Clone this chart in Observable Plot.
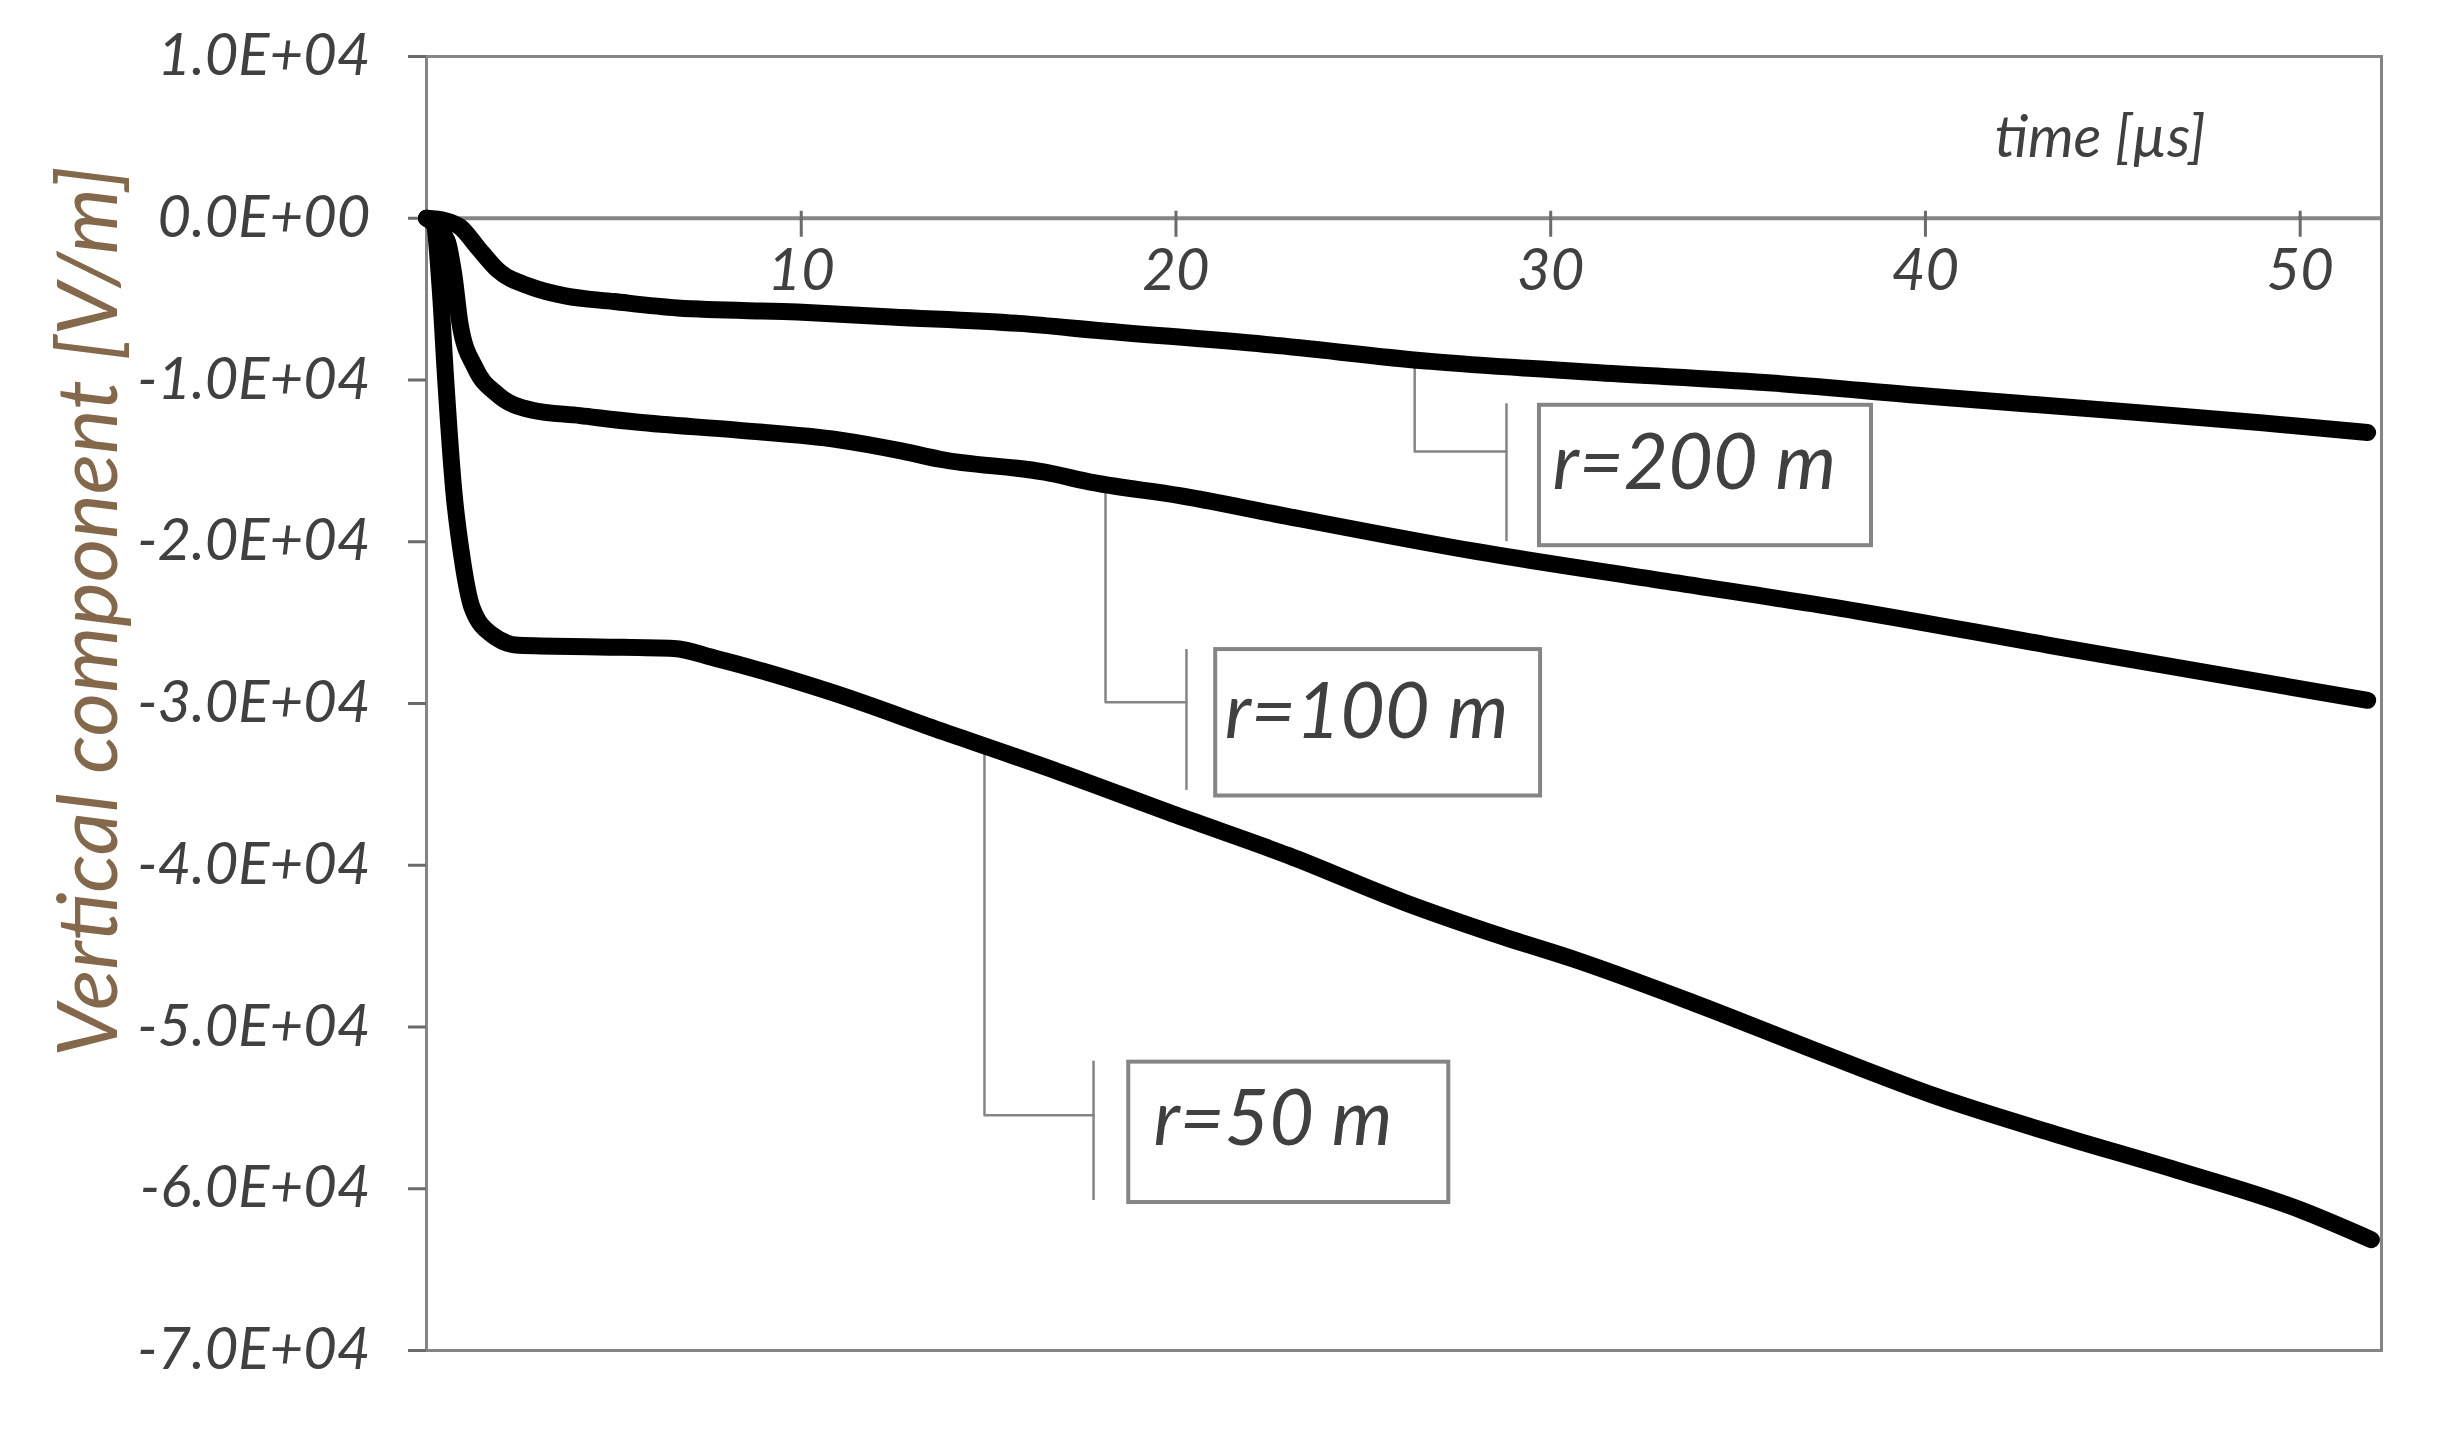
<!DOCTYPE html>
<html>
<head>
<meta charset="utf-8">
<script src="https://cdn.jsdelivr.net/npm/d3@7"></script>
<script src="https://cdn.jsdelivr.net/npm/@observablehq/plot@0.6"></script>
<style>
  html, body { margin: 0; padding: 0; background: #ffffff; }
  #chart svg { display: block; }
</style>
</head>
<body>
<div id="chart"></div>
<script>
// ---------- data (time in µs, vertical field in V/m) ----------
const seriesNames = ["r=200 m", "r=100 m", "r=50 m"];

const r200Time  = [0, 0.5, 0.9, 1.4, 1.9, 2.8, 3.7, 5.0, 6.7, 9.9, 12.4, 15.8, 18.0, 22.4, 26.8, 31.3, 35.7, 40.1, 44.5, 49.0, 51.8];
const r200Field = [0, -150, -550, -1900, -3200, -4250, -4800, -5150, -5550, -5800, -6100, -6500, -6950, -7800, -8850, -9550, -10150, -11000, -11800, -12650, -13250];

const r100Time  = [0, 0.55, 0.73, 0.9, 1.3, 1.9, 2.8, 4.1, 5.6, 8.3, 11.0, 12.7, 13.7, 16.5, 17.8, 20.1, 22.9, 28.0, 33.1, 38.2, 43.3, 48.4, 51.8];
const r100Field = [0, -1400, -3500, -6600, -9250, -10900, -11850, -12200, -12600, -13100, -13700, -14400, -14900, -15700, -16350, -17150, -18400, -20600, -22450, -24300, -26400, -28450, -29800];

const r50Time  = [0, 0.2, 0.37, 0.51, 0.73, 0.95, 1.22, 1.75, 2.46, 4.6, 6.6, 7.7, 10.8, 13.8, 16.9, 20.0, 23.0, 26.1, 28.7, 30.6, 33.8, 37.0, 40.3, 43.5, 46.7, 50.0, 51.9];
const r50Field = [0, -400, -4500, -9900, -16900, -21000, -24100, -25750, -26400, -26500, -26600, -27200, -29300, -31750, -34250, -36900, -39400, -42300, -44400, -45800, -48500, -51400, -54300, -56650, -58850, -61300, -63150];

const xTicks = [10, 20, 30, 40, 50];
const yTicks = [10000, 0, -10000, -20000, -30000, -40000, -50000, -60000, -70000];
const yTickLabels = ["1.0E+04", "0.0E+00", "-1.0E+04", "-2.0E+04", "-3.0E+04", "-4.0E+04", "-5.0E+04", "-6.0E+04", "-7.0E+04"];

const xTitle = "time [µs]";
const yTitle = "Vertical component [V/m]";

// ---------- table built from the arrays ----------
const seriesTime = [r200Time, r100Time, r50Time];
const seriesField = [r200Field, r100Field, r50Field];
const rows = seriesNames.flatMap((name, k) =>
  seriesTime[k].map((t, i) => ({r: name, t, v: seriesField[k][i]})));

function fieldAt(k, t) {
  const T = seriesTime[k], V = seriesField[k];
  const i = Math.max(1, Math.min(T.length - 1, d3.bisectLeft(T, t)));
  const a = (t - T[i - 1]) / (T[i] - T[i - 1]);
  return V[i - 1] + a * (V[i] - V[i - 1]);
}

// ---------- callout layout (data units) ----------
const callouts = [
  {k: 0, dropT: 26.37, elbowV: -14415, bracketT: 28.82, bTop: -11470, bBot: -19995, boxT1: 29.70, boxT2: 38.56, boxV1: -11563, boxV2: -20243, textT: 30.05, textV: -15200},
  {k: 1, dropT: 18.12, elbowV: -29915, bracketT: 20.28, bTop: -26666, bBot: -35371, boxT1: 21.06, boxT2: 29.73, boxV1: -26666, boxV2: -35718, textT: 21.3, textV: -30600},
  {k: 2, dropT: 14.89, elbowV: -55459, bracketT: 17.80, bTop: -52111, bBot: -60729, boxT1: 18.74, boxT2: 27.28, boxV1: -52173, boxV2: -60853, textT: 19.4, textV: -55800}
].map(c => ({...c, label: seriesNames[c.k]}));

const leaderRows = callouts.flatMap(c => [
  {id: c.k, t: c.dropT, v: fieldAt(c.k, c.dropT)},
  {id: c.k, t: c.dropT, v: c.elbowV},
  {id: c.k, t: c.bracketT, v: c.elbowV}
]);

const FONT = "Lato, 'Open Sans', sans-serif";
const GRAY = "#858585";
const TXT = "#404040";

const chart = Plot.plot({
  width: 2455,
  height: 1444,
  marginLeft: 426,
  marginRight: 74,
  marginTop: 56,
  marginBottom: 94,
  style: {background: "#ffffff", fontFamily: FONT},
  x: {domain: [0, 52.17], axis: null, label: null},
  y: {domain: [-70000, 10000], label: null},
  marks: [
    Plot.frame({stroke: GRAY, strokeWidth: 3}),
    Plot.ruleY([0], {stroke: GRAY, strokeWidth: 4}),
    Plot.ruleX(xTicks, {x: d => d, y1: 0, y2: 0, insetTop: -7, insetBottom: -19, stroke: "#6a6a6a", strokeWidth: 3}),
    Plot.text(xTicks, {x: d => d, y: 0, dy: 53, text: d => String(d), fontSize: 58, fontStyle: "italic", fontFamily: FONT, fill: TXT}),
    Plot.axisY(yTicks, {tickSize: 18, tickFormat: () => "", color: "#6a6a6a", strokeWidth: 3, label: null}),
    Plot.axisY(yTicks, {tickSize: 0, tickPadding: 56, tickFormat: d => yTickLabels[yTicks.indexOf(d)], fontSize: 58, fontStyle: "italic", fontFamily: FONT, color: TXT, label: null}),
    // callout leaders
    Plot.line(leaderRows, {x: "t", y: "v", z: "id", stroke: GRAY, strokeWidth: 2.5}),
    Plot.ruleX(callouts, {x: "bracketT", y1: "bTop", y2: "bBot", stroke: GRAY, strokeWidth: 2.5}),
    // curves
    Plot.line(rows, {x: "t", y: "v", z: "r", stroke: "#000000", strokeWidth: 17, curve: "monotone-x", strokeLinejoin: "round", strokeLinecap: "round"}),
    // callout boxes
    Plot.rect(callouts, {x1: "boxT1", x2: "boxT2", y1: "boxV1", y2: "boxV2", fill: "#ffffff", stroke: GRAY, strokeWidth: 4}),
    Plot.text(callouts, {x: "textT", y: "textV", text: "label", textAnchor: "start", lineAnchor: "middle", fontSize: 77, fontStyle: "italic", fontFamily: FONT, fill: TXT}),
    // titles
    Plot.text([xTitle], {frameAnchor: "top-right", dx: -176, dy: 82, textAnchor: "end", lineAnchor: "middle", fontSize: 58, fontStyle: "italic", fontFamily: FONT, fill: TXT}),
    Plot.text([yTitle], {frameAnchor: "left", rotate: -90, dx: -336, dy: -92, textAnchor: "middle", lineAnchor: "middle", fontSize: 84, fontStyle: "italic", fontFamily: FONT, fill: "#84684c"})
  ]
});

document.getElementById("chart").appendChild(chart);
</script>
</body>
</html>
